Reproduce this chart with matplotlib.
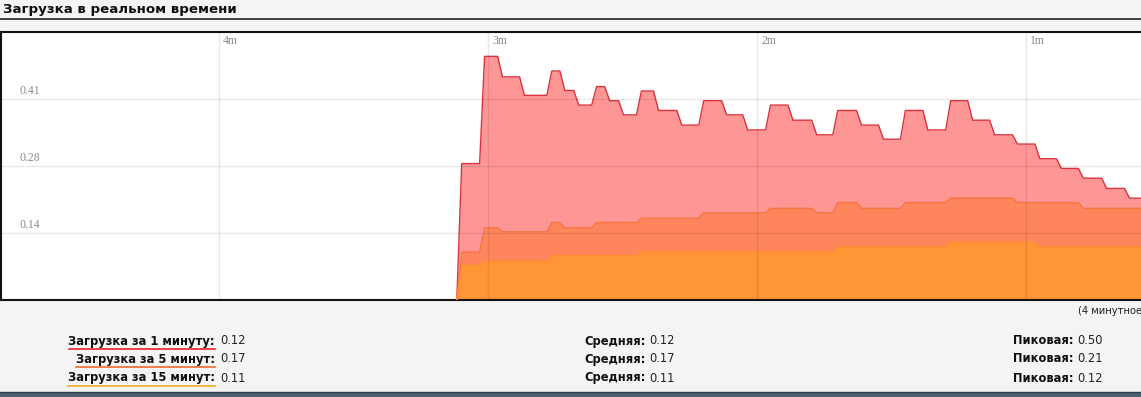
import matplotlib
matplotlib.use('Agg')
import matplotlib.pyplot as plt
from matplotlib.lines import Line2D
from matplotlib.patches import Rectangle

# Время (секунд назад) начала каждого обновления значения
t_change = [186.9, 181.8, 177.8, 172.9, 166.8, 163.9, 160.8, 156.8, 153.9, 150.8, 146.8,
            143.0, 137.8, 132.9, 127.8, 123.1, 118.0, 113.0, 107.7, 103.0, 97.7, 92.8,
            87.9, 82.9, 77.8, 72.9, 68.0, 62.9, 57.9, 53.1, 48.2, 43.0, 37.9]

load_1 = [0.28, 0.50, 0.458, 0.420, 0.470, 0.430, 0.400, 0.438, 0.409, 0.380, 0.429,
          0.389, 0.359, 0.409, 0.380, 0.349, 0.400, 0.369, 0.339, 0.389, 0.359, 0.330,
          0.389, 0.349, 0.409, 0.369, 0.339, 0.320, 0.290, 0.270, 0.250, 0.229, 0.209]

load_5 = [0.098, 0.148, 0.140, 0.140, 0.159, 0.148, 0.148, 0.159, 0.159, 0.159, 0.168,
          0.168, 0.168, 0.179, 0.179, 0.179, 0.188, 0.188, 0.179, 0.200, 0.188, 0.188,
          0.200, 0.200, 0.209, 0.209, 0.209, 0.200, 0.200, 0.200, 0.188, 0.188, 0.188]

load_15 = [0.071, 0.080, 0.080, 0.080, 0.091, 0.091, 0.091, 0.091, 0.091, 0.091, 0.099,
           0.099, 0.099, 0.099, 0.099, 0.099, 0.099, 0.099, 0.099, 0.109, 0.109, 0.109,
           0.109, 0.109, 0.119, 0.119, 0.119, 0.119, 0.109, 0.109, 0.109, 0.109, 0.109]

y_ticks = [0.1375, 0.275, 0.4125]
y_labels = ['0.14', '0.28', '0.41']
x_ticks = [240, 180, 120, 60]
x_labels = ['4m', '3m', '2m', '1m']

rows = ['Загрузка за 1 минуту:', 'Загрузка за 5 минут:', 'Загрузка за 15 минут:']
current = ['0.12', '0.17', '0.11']
average = ['0.12', '0.17', '0.11']
peak = ['0.50', '0.21', '0.12']
underline_colors = ['#e8232b', '#f26b2d', '#f5a623']

X_LEFT, X_RIGHT = 288.6, 32.0
RAMP = 1.1


def step_path(times, values, end):
    # значение держится до следующего обновления, затем короткий переход
    xs, ys = [], []
    prev = 0.0
    for t, v in zip(times, values):
        xs += [t, t - RAMP]
        ys += [prev, v]
        prev = v
    xs.append(end)
    ys.append(prev)
    return xs, ys


W, H = 1141, 397
fig = plt.figure(figsize=(W / 100, H / 100), dpi=100)
fig.patch.set_facecolor('#f4f4f4')

ax = fig.add_axes([1 / W, (H - 300) / H, 1150 / W, 268 / H])
ax.set_facecolor('white')
ax.set_xlim(X_LEFT, X_RIGHT)
ax.set_ylim(0, 0.55)

series = [
    (load_1, '#ff9696', '#d9333c'),
    (load_5, '#ff865c', '#f8743f'),
    (load_15, '#ff9535', '#ff8f2f'),
]
for vals, fill, edge in series:
    xs, ys = step_path(t_change, vals, X_RIGHT - 5)
    ax.fill_between(xs, ys, 0, color=fill, lw=0, zorder=2)
    ax.plot(xs, ys, color=edge, lw=1.0, zorder=3)

for y, lab in zip(y_ticks, y_labels):
    ax.axhline(y, color=(0, 0, 0, 0.09), lw=1, zorder=4)
    ax.text(18 / 1150, y + 0.005, lab, transform=ax.get_yaxis_transform(),
            family='Liberation Serif', fontsize=8.5, color='#8a8a8a', va='bottom')
for x, lab in zip(x_ticks, x_labels):
    ax.axvline(x, color=(0, 0, 0, 0.09), lw=1, zorder=4)
    ax.text(x - 1.0, 1 - 9 / 268, lab, transform=ax.get_xaxis_transform(),
            family='Liberation Serif', fontsize=8.5, color='#8a8a8a', va='center')

ax.set_xticks([])
ax.set_yticks([])
for side in ['left', 'top', 'bottom']:
    ax.spines[side].set_color('#111111')
    ax.spines[side].set_linewidth(1.5)
ax.spines['right'].set_visible(False)

# заголовок и линия под ним
fig.text(3 / W, 1 - 10 / H, 'Загрузка в реальном времени', family='DejaVu Sans',
         fontsize=9.6, fontweight='bold', color='#111111', va='center', ha='left')
fig.add_artist(Line2D([0, 1], [1 - 19 / H, 1 - 19 / H], color='#222222', lw=1.2))

fig.text(1078 / W, 1 - 311 / H, '(4 минутное', fontsize=7.2,
         color='#222222', va='center', ha='left')

# нижняя таблица
fs = 8.3
row_y = [341, 359, 378]
label_texts = []
for i, y in enumerate(row_y):
    yy = 1 - y / H
    t = fig.text(215 / W, yy, rows[i], fontsize=fs, fontweight='bold',
                 color='#111111', ha='right', va='center')
    label_texts.append(t)
    fig.text(220 / W, yy, current[i], fontsize=fs, color='#222222', va='center')
    fig.text(584 / W, yy, 'Средняя:', fontsize=fs, fontweight='bold',
             color='#111111', va='center')
    fig.text(649 / W, yy, average[i], fontsize=fs, color='#222222', va='center')
    fig.text(1013 / W, yy, 'Пиковая:', fontsize=fs, fontweight='bold',
             color='#111111', va='center')
    fig.text(1077 / W, yy, peak[i], fontsize=fs, color='#222222', va='center')

fig.canvas.draw()
renderer = fig.canvas.get_renderer()
for t, c in zip(label_texts, underline_colors):
    bb = t.get_window_extent(renderer)
    yl = (bb.y0 - 1) / H
    fig.add_artist(Line2D([bb.x0 / W, bb.x1 / W], [yl, yl], color=c, lw=1.2))

# полоса внизу
fig.add_artist(Rectangle((0, 0), 1, 5 / H, transform=fig.transFigure,
                         color='#4b6171', lw=0))
fig.add_artist(Line2D([0, 1], [5 / H, 5 / H], color='#2f3d47', lw=1))

fig.savefig('out.png', dpi=100, facecolor=fig.get_facecolor())
